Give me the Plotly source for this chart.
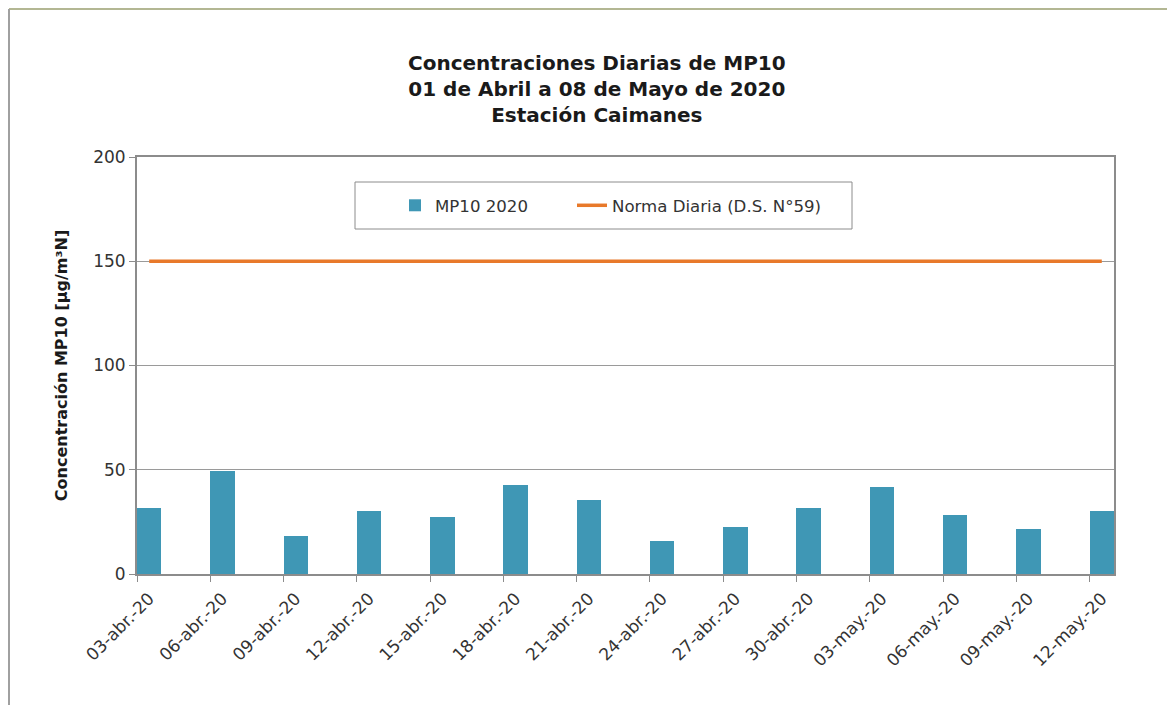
import pandas as pd
import plotly.graph_objects as go

# ---- data ----
dates = ["2020-04-03", "2020-04-06", "2020-04-09", "2020-04-12", "2020-04-15",
         "2020-04-18", "2020-04-21", "2020-04-24", "2020-04-27", "2020-04-30",
         "2020-05-03", "2020-05-06", "2020-05-09", "2020-05-12"]
tick_labels = ["03-abr.-20", "06-abr.-20", "09-abr.-20", "12-abr.-20", "15-abr.-20",
               "18-abr.-20", "21-abr.-20", "24-abr.-20", "27-abr.-20", "30-abr.-20",
               "03-may.-20", "06-may.-20", "09-may.-20", "12-may.-20"]
mp10_2020 = [31.5, 49.5, 18, 30, 27.5, 42.5, 35.5, 16, 22.5, 31.5, 41.5, 28.5, 21.5, 30]
norma_diaria = [150] * len(dates)

x_dates = pd.to_datetime(dates)
x_centers = x_dates + pd.Timedelta(hours=12)
DAY_MS = 86400000

FONT = "DejaVu Sans, Arial, sans-serif"

fig = go.Figure()
fig.add_trace(go.Bar(
    x=x_dates, y=mp10_2020, name="MP10 2020", legend="legend",
    width=[DAY_MS] * len(dates), offset=0,
    marker=dict(color="#3f97b5", line=dict(width=0)),
))
fig.add_trace(go.Scatter(
    x=x_centers, y=norma_diaria, name="Norma Diaria (D.S. N°59)", legend="legend2",
    mode="lines", line=dict(color="#e8792a", width=3.5),
))

# page offset (body margin) of the rendered page
OFF = 8
W, H = 1175, 705
L, R, T, B = 137 - OFF, W - 1114 + OFF, 157 - OFF, H - 574 + OFF
pw, ph = W - L - R, H - T - B

def px_x(p):
    return (p - OFF - L) / pw

def px_y(p):
    return (H - B - (p - OFF)) / ph

legend_common = dict(
    orientation="h", yanchor="middle", xanchor="left", y=px_y(205.5),
    bgcolor="rgba(0,0,0,0)", borderwidth=0,
    font=dict(size=16.6, color="#333333", family=FONT),
)

fig.update_layout(
    width=W, height=H,
    margin=dict(l=L, r=R, t=T, b=B),
    paper_bgcolor="white", plot_bgcolor="white",
    font=dict(family=FONT, color="#333333"),
    showlegend=True,
    legend=dict(x=px_x(395), **legend_common),
    legend2=dict(x=px_x(572), **legend_common),
    bargap=0,
    annotations=[dict(
        text="<b>Concentraciones Diarias de MP10<br>01 de Abril a 08 de Mayo de 2020<br>Estación Caimanes</b>",
        xref="paper", yref="paper", x=px_x(597), y=px_y(89),
        xanchor="center", yanchor="middle", showarrow=False,
        font=dict(size=20, color="#1a1a1a", family=FONT),
    )],
    shapes=[
        # legend frame
        dict(type="rect", xref="paper", yref="paper", x0=px_x(355), x1=px_x(852),
             y0=px_y(229), y1=px_y(182), fillcolor="white",
             line=dict(color="#8c8c8c", width=1), layer="above"),
        # outer chart frame (top and left edges)
        dict(type="line", xref="paper", yref="paper", x0=px_x(OFF + 1), x1=px_x(1180),
             y0=px_y(OFF + 1), y1=px_y(OFF + 1), line=dict(color="#b3b793", width=2)),
        dict(type="line", xref="paper", yref="paper", x0=px_x(OFF + 1), x1=px_x(OFF + 1),
             y0=px_y(OFF + 1), y1=px_y(720), line=dict(color="#a0a0a0", width=2)),
    ],
)

fig.update_yaxes(
    range=[0, 200], dtick=50, tick0=0,
    showgrid=True, gridcolor="#9a9a9a", gridwidth=1,
    showline=True, mirror=True, linecolor="#8c8c8c", linewidth=2,
    ticks="outside", ticklen=6, tickcolor="#8c8c8c",
    tickfont=dict(size=17, color="#333333"),
    zeroline=False,
    title=dict(text="<b>Concentración MP10 [µg/m³N]</b>", font=dict(size=16, color="#1a1a1a"),
               standoff=22),
)
fig.update_xaxes(
    type="date",
    range=[x_dates[0], x_dates[-1] + pd.Timedelta(days=1)],
    tickmode="array", tickvals=x_centers, ticktext=tick_labels,
    tickangle=-45,
    ticks="outside", ticklen=6, tickcolor="rgba(0,0,0,0)",
    minor=dict(tickmode="array", tickvals=x_dates, ticks="outside", ticklen=6,
               tickcolor="#8c8c8c", showgrid=False),
    tickfont=dict(size=17, color="#333333"),
    showgrid=False,
    showline=True, mirror=True, linecolor="#8c8c8c", linewidth=2,
)

fig.write_html("out.html")
